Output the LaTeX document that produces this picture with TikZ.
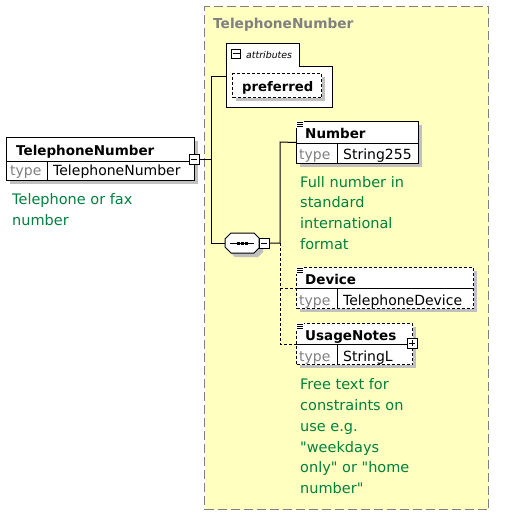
\documentclass[tikz,border=0pt]{standalone}
\usepackage{fontspec}
\setmainfont{DejaVu Sans}
\newfontfamily\docfont{DejaVu Sans}[Ligatures=TeXOff]
\definecolor{docgreen}{RGB}{0,128,64}
\definecolor{bgyellow}{RGB}{255,255,192}
\definecolor{shadowgray}{RGB}{192,192,192}
\definecolor{labelgray}{RGB}{128,128,128}
\begin{document}
\begin{tikzpicture}[x=1pt,y=-1pt,
 box/.style={draw=black, fill=white, line width=1pt, inner sep=0pt, anchor=north west},
 dbox/.style={box, dash pattern=on 3pt off 2pt},
 shadow/.style={fill=shadowgray, draw=none},
 nametext/.style={anchor=base west, inner sep=0pt, font=\fontsize{13.5}{16}\selectfont\bfseries},
 typetext/.style={anchor=base west, inner sep=0pt, font=\fontsize{14}{16}\selectfont, text=labelgray},
 valtext/.style={anchor=base west, inner sep=0pt, font=\fontsize{14}{16}\selectfont},
 doc/.style={anchor=base west, inner sep=0pt, font=\docfont\fontsize{14.5}{20}\selectfont, text=docgreen},
 conn/.style={line width=1pt},
 dconn/.style={conn, dash pattern=on 3pt off 2pt},
 sq/.style={draw=black, fill=white, line width=1pt, inner sep=0pt, minimum size=10pt}]
\useasboundingbox (0,0) rectangle (507,515);
\fill[white] (0,0) rectangle (507,515);

% group background
\node[draw=labelgray, fill=bgyellow, dash pattern=on 9pt off 4pt, line width=1.3pt,
  minimum width=284pt, minimum height=503pt, anchor=north west, inner sep=0pt] (group) at (204,6) {};
\node[anchor=base west, inner sep=0pt, font=\fontsize{13.7}{16}\selectfont\bfseries, text=labelgray] (title) at (213,28) {TelephoneNumber};

% attributes
\draw[fill=white, line width=1pt] (226,43) -- (299,43) -- (299,66) -- (332,66) -- (332,107) -- (226,107) -- cycle;
\coordinate (attrin) at (226,76);
\node[sq, minimum size=9pt] (attrsq) at (236,53.5) {};
\draw[line width=1pt] (232.5,53.5) -- (239.5,53.5);
\node[anchor=base west, inner sep=0pt, font=\fontsize{9.4}{11}\selectfont\itshape] (attrlabel) at (246,58) {attributes};
\fill[shadowgray] (236,77) rectangle (325,101);
\node[dbox, minimum width=89pt, minimum height=24pt] (preferred) at (232,73) {};
\node[nametext, font=\fontsize{13.2}{16}\selectfont\bfseries] (preftext) at (242,91) {preferred};

% main element
\fill[shadowgray] (10,141) rectangle (198,184);
\node[box, minimum width=188pt, minimum height=43pt] (main) at (6,137) {};
\draw[line width=1pt] (6,161) -- (194,161) (47,161) -- (47,180);
\node[nametext] (mainname) at (16,155) {TelephoneNumber};
\node[typetext] (maintype) at (10,175) {type};
\node[valtext] (mainval) at (53,175) {TelephoneNumber};
\node[sq] (mainsq) at (194,159) {};
\draw[line width=1pt] (191,159) -- (197,159);
\node[doc] (maindoc1) at (12,204) {Telephone or fax};
\node[doc] (maindoc2) at (12,225) {number};

% sequence compositor
\fill[shadowgray] (235,237) -- (258,237) -- (263,242) -- (263,252) -- (258,257) -- (235,257) -- (229,251) -- (229,243) -- cycle;
\draw[fill=white, line width=1pt] (231,233) -- (254,233) -- (259,238) -- (259,248) -- (254,253) -- (231,253) -- (225,247) -- (225,239) -- cycle;
\coordinate (seq) at (225,243);
\draw[line width=1pt] (230,243) -- (254,243);
\fill (236.5,241.5) rectangle (239.5,244.5);
\fill (240.5,241.5) rectangle (243.5,244.5);
\fill (244.5,241.5) rectangle (247.5,244.5);
\node[sq] (seqsq) at (264,243) {};
\draw[line width=1pt] (261,243) -- (267,243);

% junctions
\coordinate (ja) at (211,76);
\coordinate (jb) at (211,243);
\coordinate (kb) at (280,243);
\coordinate (kt) at (280,142);

% Number
\fill[shadowgray] (300,125) rectangle (422,167);
\node[box, minimum width=122pt, minimum height=42pt] (number) at (296,121) {};
\draw[line width=1pt] (296,143) -- (418,143) (337,143) -- (337,163);
\node[nametext] (numname) at (305,138) {Number};
\node[typetext] (numtype) at (299,159) {type};
\node[valtext] (numval) at (343,159) {String255};
\fill[white] (295.5,120.5) rectangle (304,128);
\draw[line width=0.8pt] (297,122.5) -- (303,122.5) (297,124.5) -- (303,124.5) (297,126.5) -- (303,126.5);
\node[doc] (numdoc1) at (300,187) {Full number in};
\node[doc] (numdoc2) at (300,207.7) {standard};
\node[doc] (numdoc3) at (300,228.4) {international};
\node[doc] (numdoc4) at (300,249.1) {format};

% Device
\fill[shadowgray] (300,271) rectangle (477,312);
\node[dbox, minimum width=177pt, minimum height=41pt] (device) at (296,267) {};
\draw[line width=1pt] (296,288) -- (473,288) (337,288) -- (337,308);
\node[nametext] (devname) at (305,284) {Device};
\node[typetext] (devtype) at (299,305) {type};
\node[valtext] (devval) at (343,305) {TelephoneDevice};
\fill[white] (295.5,266.5) rectangle (304,274);
\draw[line width=0.8pt] (297,268.5) -- (303,268.5) (297,270.5) -- (303,270.5) (297,272.5) -- (303,272.5);

% UsageNotes
\fill[shadowgray] (300,327) rectangle (416,368);
\node[dbox, minimum width=116pt, minimum height=41pt] (usage) at (296,323) {};
\draw[line width=1pt] (296,344) -- (412,344) (337,344) -- (337,364);
\node[nametext] (usename) at (305,340) {UsageNotes};
\node[typetext] (usetype) at (299,361) {type};
\node[valtext] (useval) at (343,361) {StringL};
\fill[white] (295.5,322.5) rectangle (304,330);
\draw[line width=0.8pt] (297,324.5) -- (303,324.5) (297,326.5) -- (303,326.5) (297,328.5) -- (303,328.5);
\node[sq] (usesq) at (412,343) {};
\draw[line width=1pt] (409,343) -- (415,343) (412,340) -- (412,346);
\node[doc] (usedoc1) at (300,389) {Free text for};
\node[doc] (usedoc2) at (300,410) {constraints on};
\node[doc] (usedoc3) at (300,431) {use e.g.};
\node[doc] (usedoc4) at (300,452) {"weekdays};
\node[doc] (usedoc5) at (300,472.5) {only" or "home};
\node[doc] (usedoc6) at (300,493) {number"};

% connectors
\draw[conn] (attrin) -- (ja) -- (jb) -- (seq);
\draw[conn] (mainsq.east) -- (mainsq.east -| ja);
\draw[conn] (seqsq.east) -- (kb) -- (kt) -- (number.west);
\draw[dconn] (kb) -- (kb |- usage.west) -- (usage.west);
\draw[dconn] (kb |- device.west) -- (device.west);
\end{tikzpicture}
\end{document}
